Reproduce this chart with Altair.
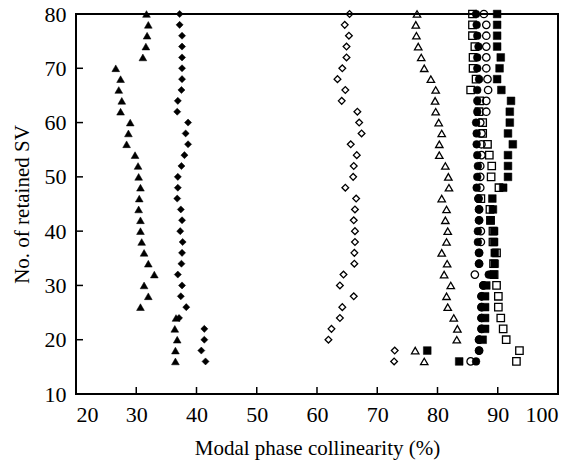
import altair as alt
import pandas as pd

# SV levels (y)
sv = [80, 78, 76, 74, 72, 70, 68, 66, 64, 62, 60, 58, 56, 54, 52, 50, 48,
      46, 44, 42, 40, 38, 36, 34, 32, 30, 28, 26, 24, 22, 20, 18, 16]

tri_filled = [31.7, 32.0, 31.8, 31.6, 31.1, 26.6, 27.4, 27.1, 27.6, 27.4, 29.0, 28.7, 28.4, 29.8, 30.3, 30.4, 30.7,
              30.5, 30.4, 30.7, 30.7, 30.9, 31.3, 32.0, 33.0, 31.3, 32.0, 30.7, 36.6, 36.4, 36.8, 36.5, 36.5]
dia_filled = [37.2, 37.2, 37.6, 37.6, 37.6, 37.6, 37.6, 37.5, 36.9, 36.8, 38.6, 38.2, 38.6, 38.0, 37.5, 36.9, 36.9,
              36.8, 37.4, 37.6, 37.3, 37.7, 37.6, 37.5, 36.9, 37.6, 37.4, 38.3, 37.1, 41.3, 41.3, 40.8, 41.5]
dia_open = [65.4, 64.6, 65.3, 64.9, 64.9, 64.2, 63.4, 64.7, 64.1, 66.7, 67.0, 67.4, 65.6, 66.6, 66.1, 66.0, 64.7,
            66.5, 66.3, 66.1, 66.3, 66.3, 66.2, 66.2, 64.4, 63.8, 66.1, 64.2, 63.8, 62.4, 61.9, 72.9, 72.8]
tri_open = [76.6, 76.4, 76.5, 76.8, 77.3, 77.8, 78.9, 79.7, 79.6, 79.7, 80.2, 80.7, 80.3, 80.3, 81.3, 81.8, 81.9,
            80.7, 81.5, 81.3, 81.7, 81.5, 80.7, 81.6, 81.1, 82.2, 81.5, 81.7, 82.7, 83.3, 83.2, 76.3, 77.8]
circ_filled = [86.4, 86.5, 86.6, 86.8, 86.6, 86.6, 86.9, 86.6, 86.6, 86.6, 86.4, 86.5, 86.5, 86.6, 86.7, 86.6, 86.5,
               86.8, 86.9, 86.9, 86.7, 86.7, 86.9, 86.9, 88.5, 87.6, 87.3, 87.3, 87.3, 87.3, 86.9, 86.9, 86.4]
circ_open = [87.7, 88.1, 88.1, 88.1, 88.1, 88.1, 88.3, 88.4, 88.1, 88.1, 87.1, 87.3, 87.3, 87.3, 87.1, 87.1, 87.1,
             86.8, 86.9, 86.9, 87.2, 87.2, 86.9, 86.9, 86.2, 87.6, 87.3, 87.3, 87.3, 87.3, 86.9, 86.9, 85.5]
sq_filled = [89.9, 89.9, 89.9, 89.9, 90.5, 90.3, 89.9, 90.6, 92.2, 92.0, 92.0, 91.7, 92.5, 91.7, 91.7, 91.7, 90.9,
             89.1, 89.2, 88.8, 89.4, 89.4, 89.5, 89.5, 89.3, 88.1, 87.9, 87.9, 87.9, 87.9, 87.5, 78.3, 83.6]
sq_open = [85.8, 85.8, 85.8, 86.2, 85.9, 85.9, 86.4, 85.5, 87.0, 86.9, 87.5, 87.5, 88.3, 88.6, 89.0, 88.9, 90.2,
           87.2, 88.7, 88.8, 89.2, 89.2, 89.8, 89.3, 89.4, 89.8, 90.1, 90.1, 90.5, 90.9, 91.4, 93.6, 93.1]

x_ticks = [20, 30, 40, 50, 60, 70, 80, 90, 100]
y_ticks = [10, 20, 30, 40, 50, 60, 70, 80]

W, H = 482, 380
FONT = "Liberation Serif"

xscale = alt.Scale(domain=[20, 100], nice=False, zero=False)
yscale = alt.Scale(domain=[10, 80], nice=False, zero=False)


def series(vals, shape, filled, size):
    df = pd.DataFrame({"x": vals, "y": sv})
    if filled:
        m = alt.Chart(df).mark_point(shape=shape, filled=True, fill="black", stroke="black",
                                     strokeWidth=0.5, size=size, opacity=1)
    else:
        m = alt.Chart(df).mark_point(shape=shape, filled=False, stroke="black",
                                     strokeWidth=1.3, size=size, opacity=1)
    return m.encode(
        x=alt.X("x:Q", scale=xscale, title="Modal phase collinearity (%)",
                axis=alt.Axis(values=x_ticks)),
        y=alt.Y("y:Q", scale=yscale, title="No. of retained SV",
                axis=alt.Axis(values=y_ticks)),
    )


xt = alt.Chart(pd.DataFrame({"v": x_ticks[1:-1]})).mark_rule(color="black", strokeWidth=1.5).encode(
    x=alt.X("v:Q", scale=xscale), y=alt.value(H - 7), y2=alt.value(H))
yt = alt.Chart(pd.DataFrame({"v": y_ticks[1:-1]})).mark_rule(color="black", strokeWidth=1.5).encode(
    y=alt.Y("v:Q", scale=yscale), x=alt.value(0), x2=alt.value(7))

chart = alt.layer(
    xt, yt,
    series(sq_open, "square", False, 55),
    series(circ_open, "circle", False, 55),
    series(tri_open, "triangle-up", False, 55),
    series(dia_open, "diamond", False, 45),
    series(tri_filled, "triangle-up", True, 60),
    series(dia_filled, "diamond", True, 50),
    series(circ_filled, "circle", True, 60),
    series(sq_filled, "square", True, 60),
).properties(
    width=W, height=H,
    autosize=alt.AutoSizeParams(type="none"),
    padding={"left": 76, "top": 14, "right": 18, "bottom": 69},
).configure_view(
    stroke="black", strokeWidth=2
).configure_axis(
    grid=False, domain=False, ticks=False, tickSize=0,
    labelFont=FONT, titleFont=FONT, labelFontSize=22, titleFontSize=21,
    labelColor="black", titleColor="black", titleFontWeight="normal",
    labelPadding=10,
).configure_axisX(
    titlePadding=12,
).configure_axisY(
    titlePadding=12,
)

chart.save("out.html", embed_options={"renderer": "svg", "actions": False})
